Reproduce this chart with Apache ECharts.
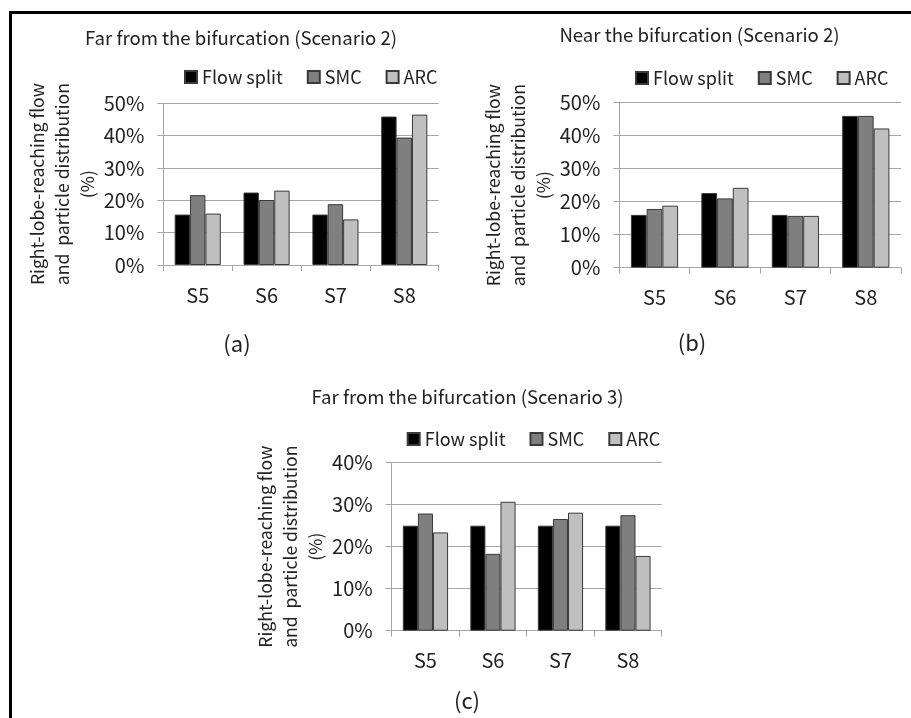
<!DOCTYPE html>
<html>
<head>
<meta charset="utf-8">
<script src="https://cdn.jsdelivr.net/npm/echarts@6/dist/echarts.min.js"></script>
<style>
  html, body { margin: 0; padding: 0; background: #fff; }
  #chart { width: 911px; height: 718px; }
</style>
</head>
<body>
<div id="chart"></div>
<script>
// Sites and series names
const categories = ['S5', 'S6', 'S7', 'S8'];
const seriesNames = ['Flow split', 'SMC', 'ARC'];

// (a) Far from the bifurcation, scenario 2 (percent)
const farS2Flow = [15.6, 22.4, 15.6, 45.9];
const farS2Smc  = [21.6, 20.1, 18.8, 39.4];
const farS2Arc  = [15.9, 23.0, 14.1, 46.5];

// (b) Near the bifurcation, scenario 2 (percent)
const nearS2Flow = [16.0, 22.6, 16.0, 46.0];
const nearS2Smc  = [17.8, 21.0, 15.7, 46.0];
const nearS2Arc  = [18.8, 24.2, 15.7, 42.2];

// (c) Far from the bifurcation, scenario 3 (percent)
const farS3Flow = [25.0, 25.0, 25.0, 25.0];
const farS3Smc  = [27.9, 18.3, 26.6, 27.5];
const farS3Arc  = [23.4, 30.7, 28.1, 17.8];

// Panel titles, captions and y-axis ranges
const panelTitles = [
  'Far from the bifurcation (Scenario 2)',
  'Near the bifurcation (Scenario 2)',
  'Far from the bifurcation (Scenario 3)'
];
const panelCaptions = ['(a)', '(b)', '(c)'];
const yMax = [50, 50, 40];
const yName = 'Right-lobe-reaching flow\nand  particle distribution\n(%)';

const FONT = '"Noto Sans CJK KR", "Noto Sans", sans-serif';
const TEXT = '#222';
const GRIDC = '#a6a6a6';
const fills = ['#000000', '#7f7f7f', '#bfbfbf'];

// Layout of each panel
const panels = [
  { grid: { left: 163.3, top: 103.3, width: 275.4, height: 161.7 },
    title: [241, 29], legend: [184, 68], caption: [237, 344], data: [farS2Flow, farS2Smc, farS2Arc] },
  { grid: { left: 619.3, top: 102.7, width: 281.7, height: 165 },
    title: [699.5, 26], legend: [635, 69], caption: [692, 343], data: [nearS2Flow, nearS2Smc, nearS2Arc] },
  { grid: { left: 391.7, top: 462.7, width: 270, height: 168 },
    title: [467.5, 388], legend: [406.7, 430], caption: [467, 701], data: [farS3Flow, farS3Smc, farS3Arc] }
];

const option = {
  animation: false,
  backgroundColor: '#fff',
  textStyle: { fontFamily: FONT, color: TEXT },
  title: panels.map((p, i) => ({
    text: panelTitles[i],
    left: p.title[0], top: p.title[1],
    textAlign: 'center',
    padding: 0,
    textStyle: { fontFamily: FONT, fontSize: 18.6, fontWeight: 'normal', color: TEXT }
  })),
  legend: panels.map((p) => ({
    data: seriesNames,
    left: p.legend[0], top: p.legend[1],
    padding: 0,
    itemWidth: 12, itemHeight: 12, itemGap: 24,
    icon: 'rect',
    selectedMode: false,
    textStyle: { fontFamily: FONT, fontSize: 18, color: TEXT }
  })),
  grid: panels.map((p) => Object.assign({ containLabel: false }, p.grid)),
  xAxis: panels.map((p, i) => ({
    type: 'category',
    gridIndex: i,
    data: categories,
    axisLine: { show: true, lineStyle: { color: GRIDC, width: 1 } },
    axisTick: { show: true, length: 6, alignWithLabel: false, lineStyle: { color: GRIDC } },
    axisLabel: { margin: 20, fontFamily: FONT, fontSize: 20, color: TEXT },
    splitLine: { show: false }
  })),
  yAxis: panels.map((p, i) => ({
    type: 'value',
    gridIndex: i,
    min: 0, max: yMax[i], interval: 10,
    name: yName,
    nameLocation: 'middle',
    nameRotate: 90,
    nameGap: 58,
    nameTextStyle: { fontFamily: FONT, fontSize: 17.6, color: TEXT, lineHeight: 25 },
    axisLine: { show: true, lineStyle: { color: GRIDC, width: 1 } },
    axisTick: { show: true, length: 6, lineStyle: { color: GRIDC } },
    axisLabel: { margin: 19, fontFamily: FONT, fontSize: 20, color: TEXT, formatter: '{value}%' },
    splitLine: { show: true, lineStyle: { color: GRIDC, width: 1 } }
  })),
  series: [],
  graphic: [
    // frame around the figure
    { type: 'rect', shape: { x: 10.5, y: 12.5, width: 1200, height: 1200 },
      style: { fill: 'none', stroke: '#000', lineWidth: 3 }, silent: true }
  ]
};

panels.forEach((p, i) => {
  seriesNames.forEach((name, k) => {
    option.series.push({
      type: 'bar',
      name: name,
      xAxisIndex: i, yAxisIndex: i,
      data: p.data[k],
      barGap: '0%',
      barCategoryGap: '33%',
      itemStyle: { color: fills[k], borderColor: '#3a3a3a', borderWidth: 1 }
    });
  });
  option.graphic.push({
    type: 'text',
    x: p.caption[0], y: p.caption[1],
    style: { text: panelCaptions[i], fontFamily: FONT, fontSize: 22, fill: TEXT,
             textAlign: 'center', textVerticalAlign: 'middle' }
  });
});

const chart = echarts.init(document.getElementById('chart'), null, { renderer: 'canvas' });
chart.setOption(option);
</script>
</body>
</html>
